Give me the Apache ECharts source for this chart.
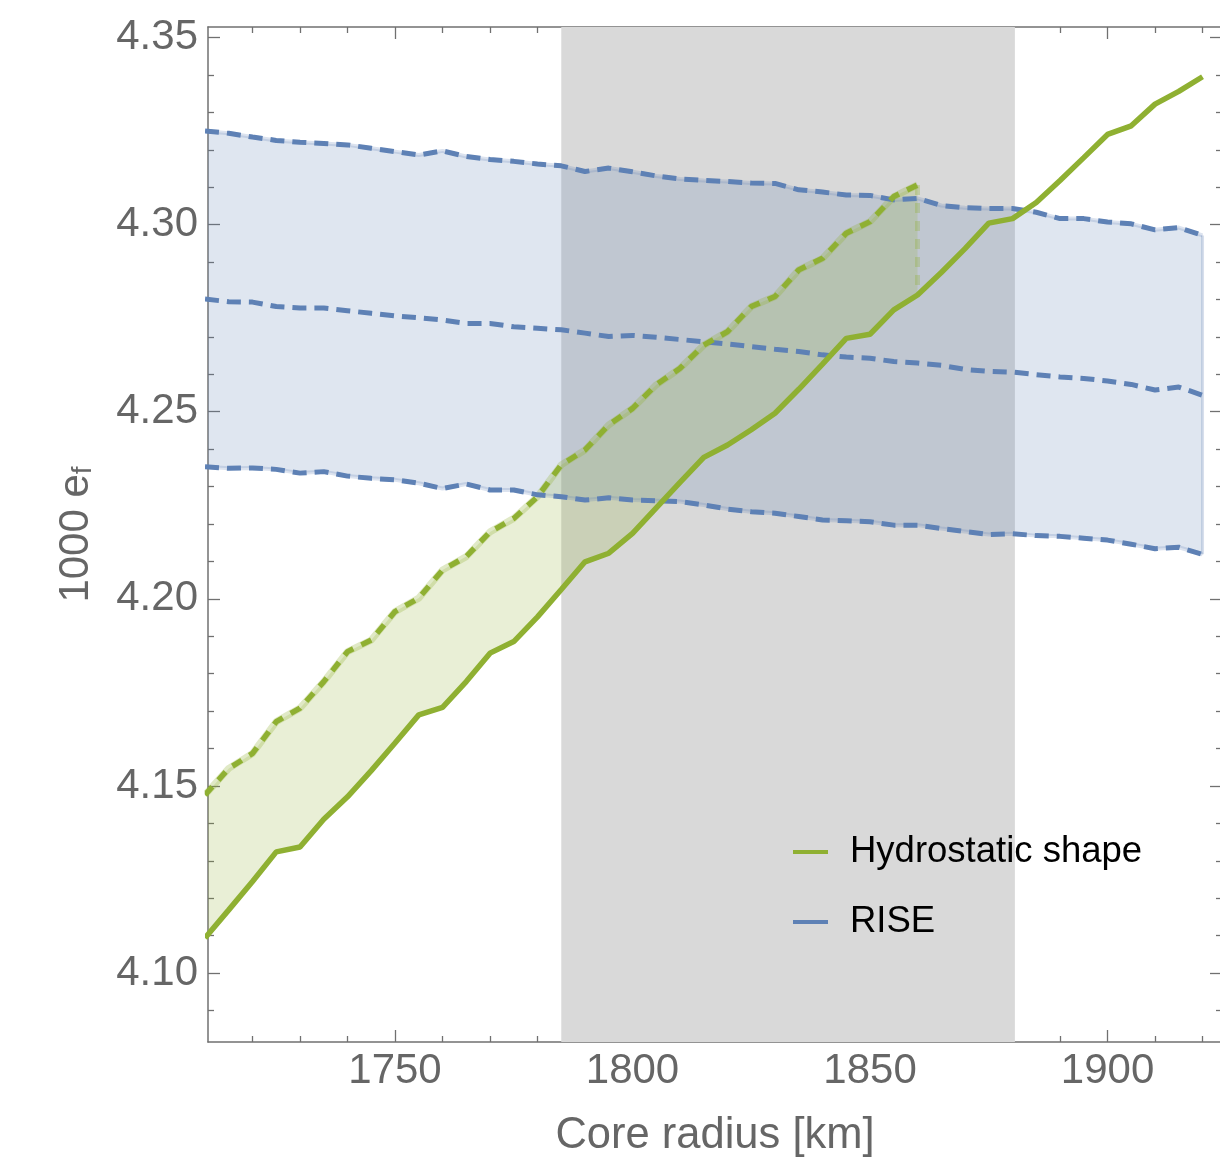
<!DOCTYPE html>
<html>
<head>
<meta charset="utf-8">
<script src="https://cdn.jsdelivr.net/npm/echarts@6/dist/echarts.min.js"></script>
<style>
html, body { margin: 0; padding: 0; background: #fff; }
#chart { width: 1220px; height: 1158px; }
</style>
</head>
<body>
<div id="chart"></div>
<script>
// core radius samples [km]
var radius = [1710, 1715, 1720, 1725, 1730, 1735, 1740, 1745, 1750, 1755, 1760,
              1765, 1770, 1775, 1780, 1785, 1790, 1795, 1800, 1805, 1810, 1815,
              1820, 1825, 1830, 1835, 1840, 1845, 1850, 1855, 1860, 1865, 1870,
              1875, 1880, 1885, 1890, 1895, 1900, 1905, 1910, 1915, 1920];

// hydrostatic shape, lower (solid) edge
var hydroLow = [4.1094, 4.1169, 4.1245, 4.1324, 4.1337, 4.1411, 4.1471, 4.1541, 4.1615, 4.1690, 4.1710,
                4.1779, 4.1855, 4.1886, 4.1952, 4.2025, 4.2099, 4.2122, 4.2175, 4.2243, 4.2311, 4.2378,
                4.2411, 4.2452, 4.2496, 4.2560, 4.2627, 4.2696, 4.2707, 4.2772, 4.2812, 4.2872, 4.2936,
                4.3004, 4.3016, 4.3059, 4.3118, 4.3179, 4.3241, 4.3264, 4.3322, 4.3356, 4.3395];
// hydrostatic shape, upper (dashed) edge, 1710..1860
var hydroHigh = [4.1476, 4.1547, 4.1587, 4.1672, 4.1708, 4.1779, 4.1859, 4.1890, 4.1966, 4.2002, 4.2077,
                 4.2113, 4.2179, 4.2215, 4.2273, 4.2358, 4.2398, 4.2465, 4.2509, 4.2572, 4.2616, 4.2678,
                 4.2714, 4.2781, 4.2808, 4.2879, 4.2910, 4.2977, 4.3008, 4.3075, 4.3106];

// RISE estimate and its bounds
var riseUpper = [4.3250, 4.3244, 4.3234, 4.3225, 4.3220, 4.3217, 4.3213, 4.3204, 4.3195, 4.3186, 4.3197,
                 4.3182, 4.3174, 4.3169, 4.3162, 4.3157, 4.3142, 4.3151, 4.3141, 4.3130, 4.3122, 4.3118,
                 4.3115, 4.3111, 4.3110, 4.3093, 4.3087, 4.3079, 4.3078, 4.3066, 4.3070, 4.3051, 4.3045,
                 4.3043, 4.3043, 4.3033, 4.3016, 4.3016, 4.3007, 4.3002, 4.2986, 4.2992, 4.2971];
var riseMid = [4.2801, 4.2794, 4.2793, 4.2781, 4.2777, 4.2777, 4.2770, 4.2763, 4.2756, 4.2751, 4.2745,
               4.2736, 4.2736, 4.2727, 4.2723, 4.2719, 4.2710, 4.2701, 4.2704, 4.2699, 4.2693, 4.2687,
               4.2681, 4.2674, 4.2667, 4.2661, 4.2652, 4.2646, 4.2643, 4.2634, 4.2630, 4.2624, 4.2613,
               4.2608, 4.2606, 4.2599, 4.2593, 4.2589, 4.2582, 4.2573, 4.2558, 4.2566, 4.2544];
var riseLower = [4.2353, 4.2349, 4.2350, 4.2346, 4.2336, 4.2340, 4.2328, 4.2322, 4.2318, 4.2309, 4.2295,
                 4.2307, 4.2291, 4.2291, 4.2278, 4.2273, 4.2264, 4.2270, 4.2264, 4.2262, 4.2260, 4.2251,
                 4.2240, 4.2233, 4.2229, 4.2220, 4.2211, 4.2209, 4.2206, 4.2197, 4.2197, 4.2188, 4.2180,
                 4.2172, 4.2174, 4.2169, 4.2167, 4.2162, 4.2157, 4.2146, 4.2134, 4.2138, 4.2119];

// shaded core radius range
var coreBand = [1785, 1880.5];

// ticks
var xMajor = [1750, 1800, 1850, 1900];
var xMinor = [1720, 1730, 1740, 1760, 1770, 1780, 1790, 1810, 1820, 1830, 1840,
              1860, 1870, 1880, 1890, 1910, 1920];
var yMajor = [4.10, 4.15, 4.20, 4.25, 4.30, 4.35];
var yMinor = [4.09, 4.11, 4.12, 4.13, 4.14, 4.16, 4.17, 4.18, 4.19, 4.21, 4.22,
              4.23, 4.24, 4.26, 4.27, 4.28, 4.29, 4.31, 4.32, 4.33, 4.34];

var X_MIN = 1710.63, X_MAX = 1924.1;
var Y_MIN = 4.0816, Y_MAX = 4.3528;

var font = 'Liberation Sans, Arial, Helvetica, sans-serif';
var frameGray = '#707070';
var labelGray = '#666666';
var green = '#8fb032';
var blue = '#5e81b5';

function pairs(xs, ys) {
    return ys.map(function (y, i) { return [xs[i], y]; });
}

var hydroLowPts = pairs(radius, hydroLow);
var hydroHighPts = pairs(radius, hydroHigh);
var riseUpperPts = pairs(radius, riseUpper);
var riseMidPts = pairs(radius, riseMid);
var riseLowerPts = pairs(radius, riseLower);
var hydroLowCut = hydroLowPts.slice(0, hydroHigh.length);

function clipRect(params) {
    var cs = params.coordSys;
    return {type: 'rect', shape: {x: cs.x, y: cs.y, width: cs.width, height: cs.height}};
}

function bandRender(lowPts, highPts, color) {
    return function (params, api) {
        var pts = [];
        highPts.forEach(function (p) { pts.push(api.coord(p)); });
        lowPts.slice().reverse().forEach(function (p) { pts.push(api.coord(p)); });
        return {
            type: 'polygon',
            shape: {points: pts},
            style: {fill: color},
            clipPath: clipRect(params)
        };
    };
}

function xAx(pos, vals, len, labels, line) {
    return {
        type: 'value', position: pos, min: X_MIN, max: X_MAX,
        axisLine: {show: line, onZero: false, lineStyle: {color: frameGray, width: 1.5}},
        axisTick: {show: true, inside: true, length: len, customValues: vals,
                   lineStyle: {color: frameGray, width: 1.3}},
        axisLabel: {show: labels, customValues: vals, margin: 8, color: labelGray,
                    fontSize: 42, fontFamily: font,
                    formatter: function (v) { return String(Math.round(v)); }},
        splitLine: {show: false}
    };
}

function yAx(pos, vals, len, labels, line) {
    return {
        type: 'value', position: pos, min: Y_MIN, max: Y_MAX,
        axisLine: {show: line, onZero: false, lineStyle: {color: frameGray, width: 1.5}},
        axisTick: {show: true, inside: true, length: len, customValues: vals,
                   lineStyle: {color: frameGray, width: 1.3}},
        axisLabel: {show: labels, customValues: vals, margin: 10, color: labelGray,
                    fontSize: 42, fontFamily: font,
                    formatter: function (v) { return v.toFixed(2); }},
        splitLine: {show: false}
    };
}

var xAxes = [xAx('bottom', xMajor, 12, true, true), xAx('bottom', xMinor, 6, false, false),
             xAx('top', xMajor, 12, false, true), xAx('top', xMinor, 6, false, false)];
xAxes[0].name = 'Core radius [km]';
xAxes[0].nameLocation = 'middle';
xAxes[0].nameGap = 72;
xAxes[0].nameTextStyle = {fontSize: 43.5, color: labelGray, fontFamily: font};

var yAxes = [yAx('left', yMajor, 12, true, true), yAx('left', yMinor, 6, false, false),
             yAx('right', yMajor, 12, false, true), yAx('right', yMinor, 6, false, false)];
yAxes[0].name = '{a|1000 e}{s|f}';
yAxes[0].nameLocation = 'middle';
yAxes[0].nameGap = 111;
yAxes[0].nameTextStyle = {
    color: labelGray, fontFamily: font,
    rich: {
        a: {fontSize: 42, color: labelGray, fontFamily: font, lineHeight: 44, verticalAlign: 'bottom'},
        s: {fontSize: 28, color: labelGray, fontFamily: font, lineHeight: 44, verticalAlign: 'bottom'}
    }
};

var chart = echarts.init(document.getElementById('chart'), null, {renderer: 'canvas'});

var option = {
    animation: false,
    backgroundColor: '#ffffff',
    grid: {left: 208, top: 27, width: 1014, height: 1015, containLabel: false,
           outerBoundsMode: 'none'},
    xAxis: xAxes,
    yAxis: yAxes,
    legend: {
        orient: 'vertical', left: 793, top: 832, padding: 0,
        itemWidth: 35, itemHeight: 4, itemGap: 30, icon: 'rect',
        textStyle: {fontFamily: font, fontSize: 36.5, color: '#000000', lineHeight: 40,
                    padding: [0, 0, 0, 17]},
        data: ['Hydrostatic shape', 'RISE']
    },
    series: [
        {
            name: 'core', type: 'custom', z: 1, silent: true,
            data: [[coreBand[0], Y_MIN]],
            renderItem: function (params, api) {
                var a = api.coord([coreBand[0], Y_MAX]);
                var b = api.coord([coreBand[1], Y_MIN]);
                return {type: 'rect', shape: {x: a[0], y: a[1], width: b[0] - a[0], height: b[1] - a[1]},
                        style: {fill: '#d9d9d9'}};
            }
        },
        {
            name: 'riseFill', type: 'custom', z: 2, silent: true,
            data: [[radius[0], riseLower[0]]],
            renderItem: bandRender(riseLowerPts, riseUpperPts, 'rgba(94,129,181,0.2)')
        },
        {
            name: 'hydroFill', type: 'custom', z: 3, silent: true,
            data: [[radius[0], hydroLow[0]]],
            renderItem: bandRender(hydroLowCut, hydroHighPts, 'rgba(143,176,50,0.2)')
        },
        {
            name: 'riseUpperEdge', type: 'line', z: 4, symbol: 'none', silent: true,
            data: riseUpperPts, lineStyle: {color: 'rgba(94,129,181,0.22)', width: 4}
        },
        {
            name: 'riseLowerEdge', type: 'line', z: 4, symbol: 'none', silent: true,
            data: riseLowerPts, lineStyle: {color: 'rgba(94,129,181,0.22)', width: 4}
        },
        {
            name: 'riseEnd', type: 'line', z: 4, symbol: 'none', silent: true,
            data: [riseLowerPts[riseLowerPts.length - 1], riseUpperPts[riseUpperPts.length - 1]],
            lineStyle: {color: 'rgba(94,129,181,0.25)', width: 3}
        },
        {
            name: 'hydroHighEdge', type: 'line', z: 4, symbol: 'none', silent: true,
            data: hydroHighPts, lineStyle: {color: 'rgba(143,176,50,0.28)', width: 7}
        },
        {
            name: 'hydroEnd', type: 'line', z: 4, symbol: 'none', silent: true,
            data: [hydroHighPts[hydroHighPts.length - 1], hydroLowCut[hydroLowCut.length - 1]],
            lineStyle: {color: 'rgba(143,176,50,0.3)', width: 5, type: [10, 8]}
        },
        {
            name: 'RISE', type: 'line', z: 5, symbol: 'none',
            data: riseMidPts, itemStyle: {color: blue},
            lineStyle: {color: blue, width: 5, type: [14, 8]}
        },
        {
            name: 'riseUpper', type: 'line', z: 5, symbol: 'none', silent: true,
            data: riseUpperPts, lineStyle: {color: blue, width: 5, type: [14, 8]}
        },
        {
            name: 'riseLower', type: 'line', z: 5, symbol: 'none', silent: true,
            data: riseLowerPts, lineStyle: {color: blue, width: 5, type: [14, 8]}
        },
        {
            name: 'hydroHigh', type: 'line', z: 6, symbol: 'none', silent: true,
            data: hydroHighPts, lineStyle: {color: green, width: 5.5, type: [11, 9]}
        },
        {
            name: 'Hydrostatic shape', type: 'line', z: 7, symbol: 'none',
            data: hydroLowPts, itemStyle: {color: green},
            lineStyle: {color: green, width: 5.5}
        }
    ]
};

chart.setOption(option);
</script>
</body>
</html>
